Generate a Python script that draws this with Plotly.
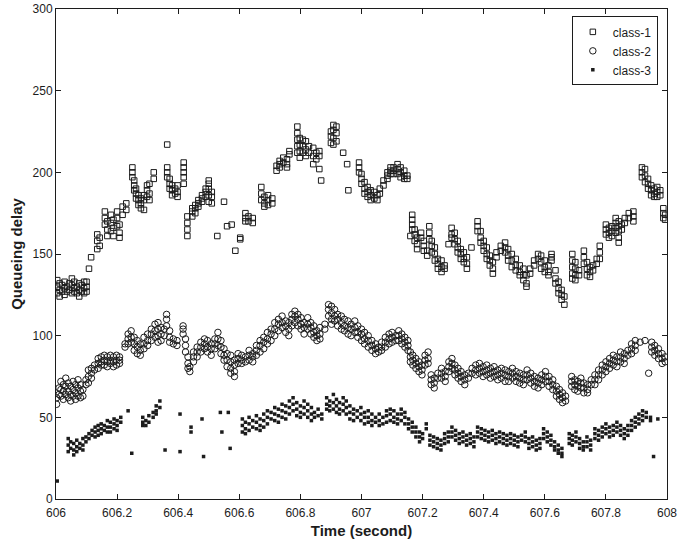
import plotly.graph_objects as go

# Queueing delay samples per traffic class: (time in s, delays observed at that time)
CLASS1 = [
    (606.004, (130, 126, 134)), (606.012, (128, 132, 124)), (606.020, (131, 127)),
    (606.028, (129, 133, 125)), (606.036, (130, 127)), (606.044, (128, 132)),
    (606.052, (131, 126, 135)), (606.060, (129, 133, 127)), (606.068, (130, 126)),
    (606.076, (128, 132, 124)), (606.084, (131, 127)), (606.092, (129, 133, 126)),
    (606.100, (130, 127, 133)), (606.108, (141,)), (606.115, (148,)),
    (606.135, (162, 158, 153)), (606.143, (160, 155)), (606.160, (176, 172, 168)),
    (606.168, (170, 165, 161)), (606.180, (174, 169, 164)), (606.188, (171, 166, 161)),
    (606.200, (176, 172, 167)), (606.208, (168, 163, 160)), (606.218, (179, 174)),
    (606.230, (181, 177)), (606.250, (203, 200, 197)), (606.256, (195, 192, 189)),
    (606.262, (190, 187, 184)), (606.270, (186, 183, 180)), (606.278, (184, 181, 178)),
    (606.288, (186, 183, 177)), (606.298, (192, 189, 185)), (606.306, (193, 187, 183)),
    (606.320, (200, 196)), (606.364, (217, 203, 200, 197)), (606.372, (196, 193, 190)),
    (606.380, (192, 189, 186)), (606.390, (190, 187)), (606.398, (192, 188, 185)),
    (606.418, (206, 203, 200, 197, 193)), (606.430, (173, 169, 165, 161)),
    (606.446, (178, 176, 173)), (606.456, (180, 178, 175)), (606.466, (183, 181, 179)),
    (606.478, (186, 184, 182)), (606.490, (190, 188, 185)),
    (606.500, (195, 193, 190, 186, 182)), (606.510, (188, 185, 181)),
    (606.528, (161,)), (606.550, (182,)), (606.560, (167,)), (606.575, (168,)),
    (606.587, (152,)), (606.603, (160, 159)), (606.620, (175, 172, 170)),
    (606.630, (173, 170)), (606.644, (172, 169)), (606.672, (191, 187, 183)),
    (606.682, (185, 181, 179)), (606.694, (186, 183, 180)), (606.708, (184, 181)),
    (606.722, (201, 204)), (606.732, (207, 205, 203)), (606.744, (209, 206)),
    (606.756, (208, 205, 203)), (606.764, (213, 211)),
    (606.790, (228, 224, 220, 216, 212)), (606.798, (221, 217, 213, 209)),
    (606.808, (220, 216, 212)), (606.818, (219, 214, 210)), (606.828, (216, 212)),
    (606.842, (215, 210, 205)), (606.852, (212, 208)), (606.862, (213, 210, 202)),
    (606.868, (195,)), (606.900, (225, 222, 218)), (606.908, (229, 226, 221, 217)),
    (606.918, (228, 224, 219)), (606.940, (212,)), (606.953, (205,)), (606.957, (189,)),
    (606.992, (206, 203, 200)), (607.000, (199, 196, 193)), (607.010, (194, 190, 187)),
    (607.020, (191, 188, 185)), (607.030, (189, 186, 183)), (607.042, (188, 184)),
    (607.052, (183, 186)), (607.060, (187, 190)), (607.072, (192, 195)),
    (607.085, (198, 200, 196)), (607.095, (201, 199, 203)), (607.105, (199, 203, 201)),
    (607.118, (205, 202, 199)), (607.128, (203, 200, 197)), (607.140, (201, 196, 198)),
    (607.150, (196, 198)), (607.160, (161,)), (607.166, (174, 171, 168, 165)),
    (607.174, (165, 162, 158)), (607.182, (160, 156, 153)), (607.195, (163, 160)),
    (607.204, (158, 155, 152)), (607.215, (149, 152)), (607.222, (167, 163, 159)),
    (607.230, (158, 155, 151)), (607.240, (154, 150, 146)), (607.250, (147, 144, 141)),
    (607.262, (146, 142, 139)), (607.272, (143, 141)), (607.285, (156,)),
    (607.295, (166, 162, 160)), (607.305, (163, 159, 156)), (607.315, (158, 154, 151)),
    (607.325, (153, 150, 147)), (607.335, (151, 147, 145)), (607.345, (148, 144, 141)),
    (607.360, (154,)), (607.380, (170, 167, 164)), (607.390, (164, 160, 157)),
    (607.400, (158, 155, 152)), (607.410, (154, 150, 147)), (607.420, (149, 146, 143)),
    (607.430, (145, 141, 138)), (607.442, (148, 151)), (607.456, (155, 152)),
    (607.470, (157, 154, 151)), (607.480, (153, 149, 146)), (607.492, (150, 146, 142)),
    (607.505, (147, 143, 140)), (607.518, (143, 139, 137)), (607.530, (141, 137, 134)),
    (607.540, (137, 132, 130)), (607.552, (138, 141)), (607.565, (143, 146)),
    (607.578, (147, 150)), (607.588, (149, 145, 141)), (607.600, (146, 142, 139)),
    (607.612, (143, 139, 137)), (607.622, (150, 148, 146)), (607.635, (140, 135, 132)),
    (607.645, (133, 129, 126)), (607.655, (128, 125, 122)), (607.664, (124, 119)),
    (607.690, (150, 146, 142, 138, 135)), (607.700, (145, 141, 137, 134)),
    (607.712, (140, 137)), (607.728, (152, 148, 144)), (607.738, (145, 141, 137)),
    (607.748, (142, 139, 136)), (607.758, (143, 140)), (607.770, (147, 144)),
    (607.780, (155, 151, 147)), (607.800, (168, 165, 162)), (607.810, (166, 163, 160)),
    (607.820, (167, 164, 161)), (607.832, (172, 169, 166, 163)),
    (607.842, (170, 167, 164, 160, 157)), (607.852, (168, 165)), (607.862, (172, 169)),
    (607.875, (175, 172)), (607.890, (176, 173, 170)), (607.918, (203, 200, 197)),
    (607.928, (202, 198, 194)), (607.938, (196, 193, 190)), (607.948, (192, 189, 186)),
    (607.958, (190, 187, 185)), (607.968, (191, 188, 185)), (607.978, (189, 186)),
    (607.988, (178, 175, 172)), (607.994, (174, 171)),
]

CLASS2 = [
    (606.002, (62, 58)), (606.010, (68, 64)), (606.016, (72, 67, 63)),
    (606.024, (70, 66, 61)), (606.032, (74, 69, 64)), (606.040, (71, 66, 62)),
    (606.048, (69, 64, 60)), (606.056, (72, 67, 63)), (606.064, (70, 65, 61)),
    (606.072, (73, 68, 63)), (606.080, (70, 66, 62)), (606.088, (67, 63)),
    (606.098, (73, 70)), (606.106, (79, 75, 71)), (606.116, (80, 77, 74)),
    (606.126, (82, 79)), (606.138, (86, 83, 80)), (606.148, (87, 84, 82)),
    (606.158, (88, 85, 82)), (606.168, (87, 84, 81)), (606.178, (88, 85, 83)),
    (606.188, (87, 84, 81)), (606.198, (88, 85, 82)), (606.208, (87, 85, 83)),
    (606.226, (95, 93)), (606.236, (101, 98, 95)), (606.246, (103, 99, 96)),
    (606.256, (99, 95, 91)), (606.266, (97, 93, 89)), (606.276, (95, 91, 88)),
    (606.288, (99, 95, 92)), (606.300, (101, 97, 94)), (606.312, (104, 101, 97)),
    (606.324, (107, 103, 99)), (606.334, (108, 104, 100, 96)), (606.344, (105, 101, 97)),
    (606.354, (104, 100)), (606.362, (113, 110, 106)), (606.372, (103, 99, 96)),
    (606.384, (98, 95)), (606.396, (97, 94)), (606.416, (106, 104, 101)),
    (606.424, (98, 94, 90)), (606.432, (87, 83, 80)), (606.438, (81, 78)),
    (606.450, (90, 87, 84)), (606.462, (93, 90, 87)), (606.474, (96, 93, 90)),
    (606.486, (98, 95, 92)), (606.496, (97, 93, 90)), (606.508, (95, 92, 88)),
    (606.520, (98, 95, 92)), (606.530, (102, 98, 94)), (606.540, (97, 93, 89)),
    (606.550, (92, 88, 85)), (606.560, (89, 85, 81)), (606.572, (88, 84, 80, 77)),
    (606.584, (85, 82, 78, 75)), (606.596, (89, 86, 83)), (606.608, (88, 85, 83)),
    (606.620, (87, 84)), (606.632, (91, 88, 85)), (606.644, (89, 87, 84)),
    (606.656, (94, 91, 88)), (606.668, (97, 94, 90)), (606.680, (99, 96, 92)),
    (606.692, (102, 98, 95)), (606.704, (104, 101, 97)), (606.716, (108, 104, 100)),
    (606.728, (110, 107, 103)), (606.740, (112, 108, 105)), (606.752, (109, 106, 102)),
    (606.762, (108, 104, 100)), (606.772, (113, 110, 106)), (606.782, (115, 112, 108)),
    (606.792, (113, 110, 106)), (606.802, (111, 107, 104)), (606.812, (108, 105, 101)),
    (606.824, (111, 107, 104)), (606.834, (108, 105, 101)), (606.844, (106, 102, 99)),
    (606.854, (103, 100, 97)), (606.864, (105, 101, 98)), (606.880, (107, 104)),
    (606.892, (119, 116, 112)), (606.902, (118, 114, 110, 107)), (606.912, (116, 112, 109)),
    (606.922, (113, 110, 106)), (606.934, (112, 108, 104)), (606.944, (110, 106, 103)),
    (606.956, (109, 105, 101)), (606.966, (107, 104, 100)), (606.978, (109, 105, 102)),
    (606.988, (106, 102, 99)), (607.000, (104, 101, 97)), (607.010, (102, 98, 95)),
    (607.022, (100, 97, 93)), (607.034, (97, 94, 91)), (607.046, (95, 92, 89)),
    (607.056, (93, 90)), (607.066, (96, 93, 91)), (607.078, (99, 96, 93)),
    (607.090, (101, 98, 95)), (607.100, (102, 99, 96)), (607.112, (100, 97)),
    (607.122, (103, 100, 97)), (607.132, (101, 98, 95)), (607.142, (99, 96, 93)),
    (607.152, (97, 94, 91)), (607.160, (90, 87, 84)), (607.168, (88, 85, 82)),
    (607.178, (86, 83, 80)), (607.188, (84, 81, 78)), (607.198, (82, 79, 76)),
    (607.208, (88, 85, 82)), (607.218, (90, 86, 83)), (607.228, (76, 73, 70)),
    (607.238, (74, 71, 68)), (607.250, (77, 74)), (607.262, (80, 77, 74)),
    (607.274, (78, 75, 72)), (607.286, (84, 81, 78)), (607.296, (86, 83, 80)),
    (607.306, (82, 79, 76)), (607.316, (80, 77, 74)), (607.326, (78, 75, 72)),
    (607.338, (76, 73, 70)), (607.350, (77, 74)), (607.362, (80, 77)),
    (607.374, (82, 79, 76)), (607.386, (83, 80, 77)), (607.398, (81, 78, 75)),
    (607.410, (82, 79, 76)), (607.422, (80, 77, 74)), (607.434, (81, 78, 75)),
    (607.446, (79, 76, 73)), (607.458, (80, 77, 74)), (607.470, (79, 76, 72)),
    (607.482, (78, 75, 72)), (607.494, (80, 77, 74)), (607.506, (78, 75, 72)),
    (607.518, (77, 74, 71)), (607.530, (76, 73, 70)), (607.542, (79, 76, 73)),
    (607.554, (77, 74, 71)), (607.566, (75, 72, 69)), (607.578, (74, 71, 68)),
    (607.590, (76, 73, 70)), (607.602, (78, 75, 72)), (607.614, (75, 72, 69)),
    (607.626, (73, 70, 67)), (607.638, (69, 66, 63)), (607.648, (67, 64, 61)),
    (607.658, (65, 62, 59)), (607.668, (63, 60)), (607.688, (75, 72, 69)),
    (607.698, (73, 70, 67)), (607.708, (72, 69, 66)), (607.718, (74, 71, 68)),
    (607.728, (71, 68, 65)), (607.740, (70, 67, 65)), (607.752, (73, 70)),
    (607.764, (76, 73, 70)), (607.776, (79, 76, 73)), (607.788, (82, 79, 76)),
    (607.800, (84, 81, 78)), (607.812, (86, 83, 80)), (607.824, (88, 85, 82)),
    (607.836, (87, 84, 81)), (607.848, (90, 87, 84)), (607.860, (89, 86, 83)),
    (607.872, (91, 88)), (607.884, (95, 92, 89)), (607.896, (97, 94, 91)),
    (607.912, (96,)), (607.928, (97,)), (607.940, (77,)), (607.950, (96, 93, 90)),
    (607.960, (94, 91, 88)), (607.972, (92, 89, 86)), (607.984, (89, 86, 83)),
    (607.994, (87, 84)),
]

CLASS3 = [
    (606.004, (11,)), (606.040, (37, 33, 29)), (606.048, (35, 31)),
    (606.058, (34, 30, 27)), (606.068, (36, 32, 29)), (606.078, (34, 31)),
    (606.088, (37, 33, 30)), (606.098, (38, 35)), (606.108, (40, 37)),
    (606.118, (42, 39)), (606.128, (44, 41, 38)), (606.138, (45, 42, 39)),
    (606.148, (46, 43, 40)), (606.158, (45, 42)), (606.168, (48, 44, 41)),
    (606.178, (47, 44, 41)), (606.190, (49, 46, 43)), (606.200, (48, 45, 42)),
    (606.212, (50, 47)), (606.236, (54,)), (606.248, (28,)),
    (606.284, (50, 47, 45)), (606.294, (48, 45)), (606.304, (51, 47)),
    (606.318, (53, 50)), (606.328, (57, 54, 52)), (606.340, (60, 56)),
    (606.357, (30,)), (606.406, (52, 29)), (606.442, (44, 41)), (606.478, (49,)),
    (606.483, (26,)), (606.538, (53,)), (606.543, (41,)), (606.564, (53,)),
    (606.570, (31,)), (606.610, (49, 45, 41)), (606.620, (47, 43, 40)),
    (606.632, (50, 46, 42)), (606.644, (48, 44)), (606.656, (51, 47, 43)),
    (606.668, (49, 45, 42)), (606.680, (52, 48, 44)), (606.692, (54, 50, 46)),
    (606.704, (53, 49)), (606.716, (56, 52, 48)), (606.728, (55, 51, 47)),
    (606.740, (58, 54, 50)), (606.752, (57, 53, 49)), (606.764, (60, 56, 52)),
    (606.776, (62, 58, 54)), (606.788, (59, 55, 51)), (606.800, (57, 53, 50)),
    (606.812, (60, 56, 52)), (606.824, (58, 54, 50)), (606.836, (56, 52, 48)),
    (606.846, (53, 50)), (606.858, (55, 51)), (606.870, (52, 49)),
    (606.886, (62, 58, 55)), (606.896, (60, 57, 54)), (606.908, (64, 59, 55)),
    (606.918, (61, 57, 53)), (606.928, (59, 55, 52)), (606.940, (62, 58, 54)),
    (606.950, (60, 56, 52)), (606.962, (57, 53, 49)), (606.974, (55, 52, 48)),
    (606.986, (54, 50)), (606.998, (56, 52, 48)), (607.010, (53, 50, 46)),
    (607.022, (54, 50, 47)), (607.034, (52, 48, 45)), (607.046, (50, 47)),
    (607.058, (52, 48, 45)), (607.070, (50, 46)), (607.082, (54, 51, 47)),
    (607.094, (55, 52, 48)), (607.106, (54, 50, 47)), (607.118, (52, 49, 46)),
    (607.130, (55, 52, 48)), (607.142, (53, 50, 46)), (607.154, (49, 46, 43)),
    (607.166, (47, 44, 41)), (607.178, (44, 41, 38)), (607.190, (41, 38, 35)),
    (607.200, (40, 37)), (607.212, (46, 43)), (607.224, (39, 36, 33)),
    (607.236, (38, 35, 32)), (607.248, (37, 34, 31)), (607.260, (36, 33, 30)),
    (607.272, (40, 37, 34)), (607.284, (41, 38, 35)), (607.296, (44, 41, 38)),
    (607.308, (42, 39, 36)), (607.320, (40, 37, 34)), (607.332, (41, 38, 35)),
    (607.344, (39, 36, 33)), (607.356, (40, 37, 34)), (607.368, (38, 35, 32)),
    (607.380, (44, 41, 38)), (607.392, (43, 40, 37)), (607.404, (42, 39, 36)),
    (607.416, (41, 38, 35)), (607.428, (42, 39, 36)), (607.440, (40, 37, 34)),
    (607.452, (41, 38, 35)), (607.464, (40, 37, 34)), (607.476, (39, 36, 33)),
    (607.488, (40, 37, 34)), (607.500, (39, 36, 33)), (607.512, (38, 35, 32)),
    (607.524, (39, 36)), (607.536, (41, 38, 35)), (607.548, (37, 34, 31)),
    (607.560, (38, 35, 32)), (607.572, (36, 33, 30)), (607.584, (37, 34, 31)),
    (607.596, (43, 40, 37)), (607.608, (41, 38, 35)), (607.620, (39, 36, 33)),
    (607.632, (35, 32, 30)), (607.644, (33, 30, 28)), (607.656, (31, 28, 26)),
    (607.680, (40, 37, 34)), (607.690, (39, 36, 33)), (607.702, (41, 38, 35)),
    (607.714, (37, 34, 31)), (607.726, (35, 32, 30)), (607.738, (38, 35, 32)),
    (607.750, (36, 33, 30)), (607.764, (43, 40, 37)), (607.776, (42, 39, 36)),
    (607.788, (44, 41, 38)), (607.800, (46, 43, 40)), (607.812, (44, 41, 38)),
    (607.824, (45, 42, 39)), (607.836, (47, 44, 41)), (607.848, (45, 42, 39)),
    (607.860, (43, 40, 37)), (607.872, (45, 42, 39)), (607.884, (48, 45, 42)),
    (607.896, (50, 47, 44)), (607.908, (52, 49, 46)), (607.920, (54, 51, 48)),
    (607.932, (53, 50)), (607.946, (50, 48)), (607.956, (26,)), (607.970, (49,)),
]

X_TICKS = [606, 606.2, 606.4, 606.6, 606.8, 607, 607.2, 607.4, 607.6, 607.8, 608]
X_TICK_TEXT = ["606", "606.2", "606.4", "606.6", "606.8", "607",
               "607.2", "607.4", "607.6", "607.8", "608"]
Y_TICKS = [0, 50, 100, 150, 200, 250, 300]


def expand(samples):
    xs, ys = [], []
    for t, vals in samples:
        for v in vals:
            xs.append(t)
            ys.append(v)
    return xs, ys


INK = "#1c1c1c"
FONT = "Liberation Sans, Arial, sans-serif"

fig = go.Figure()
for name, data, symbol, size, lw in [
    ("class-1", CLASS1, "square-open", 5.5, 1),
    ("class-2", CLASS2, "circle-open", 6.5, 1),
    ("class-3", CLASS3, "square", 3.5, 0),
]:
    xs, ys = expand(data)
    fig.add_trace(go.Scatter(
        x=xs, y=ys, mode="markers", name=name,
        marker=dict(symbol=symbol, size=size, color=INK,
                    line=dict(color=INK, width=lw)),
    ))

axis_common = dict(
    showgrid=False, zeroline=False, showline=True, linecolor=INK, linewidth=1,
    mirror="ticks", ticks="inside", ticklen=5, tickcolor=INK, automargin=False,
    tickfont=dict(family=FONT, size=12, color=INK),
)

fig.update_layout(
    width=679, height=549,
    margin=dict(l=56, r=12, t=9, b=50),
    paper_bgcolor="white", plot_bgcolor="white",
    showlegend=True,
    legend=dict(
        x=0.985, y=0.985, xanchor="right", yanchor="top",
        bgcolor="white", bordercolor=INK, borderwidth=1,
        font=dict(family=FONT, size=12, color=INK),
        tracegroupgap=0, itemsizing="trace",
    ),
    xaxis=dict(axis_common, range=[606, 608], tickvals=X_TICKS, ticktext=X_TICK_TEXT,
               ticklabelstandoff=3,
               title=dict(text="<b>Time (second)</b>", standoff=6,
                          font=dict(family=FONT, size=15, color=INK))),
    yaxis=dict(axis_common, range=[0, 300], tickvals=Y_TICKS,
               title=dict(text="<b>Queueing delay</b>", standoff=6,
                          font=dict(family=FONT, size=15, color=INK))),
)

fig.write_html("out.html")
